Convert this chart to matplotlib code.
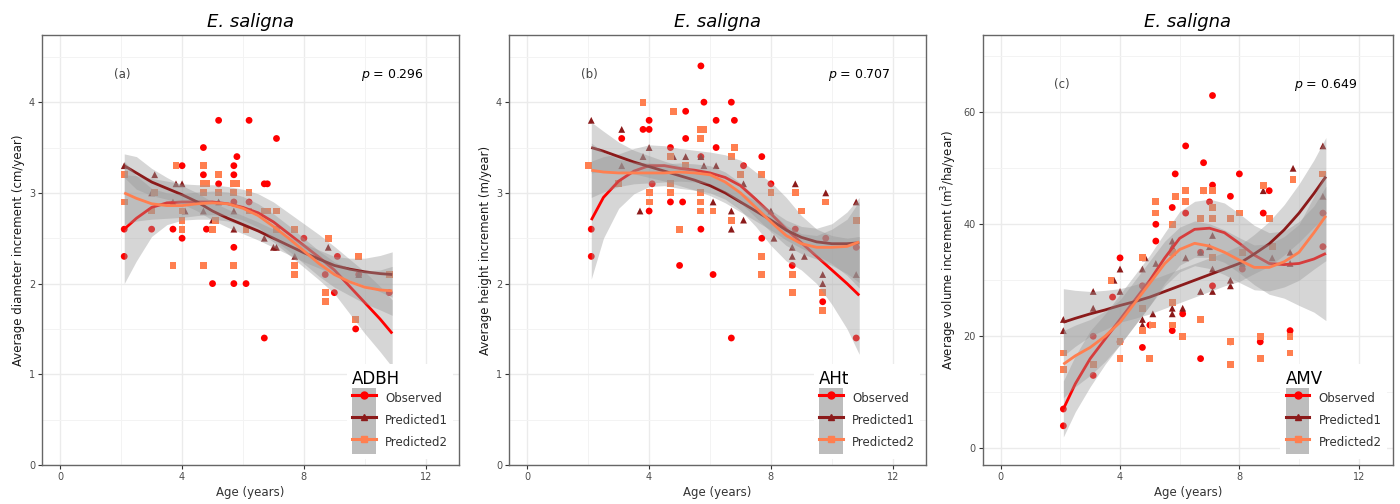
import numpy as np
import matplotlib
matplotlib.use("Agg")
import matplotlib.pyplot as plt
from matplotlib.lines import Line2D
from matplotlib.patches import Patch
from matplotlib.legend_handler import HandlerTuple
from matplotlib.ticker import MultipleLocator

# ---- observed / predicted increments (E. saligna) ----
# panel (a) diameter increment, cm/year
obs_age_a = [2.1, 2.1, 3.0, 3.7, 4.0, 4.0, 4.7, 4.7, 4.8, 5.0, 5.2, 5.2, 5.7, 5.7, 5.7, 5.7, 5.7, 5.8,
             6.1, 6.2, 6.2, 6.7, 6.8, 6.7, 7.1, 8.0, 8.7, 9.0, 9.1, 9.7, 9.8, 10.8]
obs_a = [2.6, 2.3, 2.6, 2.6, 3.3, 2.5, 3.5, 3.2, 2.6, 2.0, 3.8, 3.1, 3.3, 3.2, 2.9, 2.4, 2.0, 3.4,
         2.0, 3.8, 2.9, 3.1, 3.1, 1.4, 3.6, 2.5, 2.1, 1.9, 2.3, 1.5, 2.1, 1.9]
p1_age_a = [2.1, 3.0, 3.1, 3.7, 3.8, 4.0, 4.1, 4.7, 5.0, 5.2, 5.7, 5.7, 6.7, 7.0, 7.1, 7.7, 8.8, 9.8, 10.8]
p1_a = [3.3, 3.0, 3.2, 2.9, 3.1, 3.1, 2.8, 2.8, 2.7, 2.9, 2.6, 2.8, 2.5, 2.4, 2.4, 2.3, 2.4, 2.1, 2.1]
p2_age_a = [2.1, 2.1, 3.0, 3.1, 3.7, 3.8, 4.0, 4.0, 4.0, 4.7, 4.7, 4.7, 4.7, 4.8, 5.0, 5.1, 5.2, 5.2,
            5.7, 5.7, 5.7, 5.8, 6.1, 6.2, 6.2, 6.7, 6.8, 7.1, 7.1, 7.7, 7.7, 7.7, 8.7, 8.7, 8.8,
            9.7, 9.8, 10.8]
p2_a = [3.2, 2.9, 2.8, 3.0, 2.2, 3.3, 2.8, 2.7, 2.6, 3.3, 3.1, 3.0, 2.2, 3.1, 2.6, 2.7, 3.2, 3.0,
        3.1, 3.0, 2.2, 3.1, 2.6, 3.0, 2.8, 2.8, 2.8, 2.8, 2.6, 2.6, 2.2, 2.1, 1.9, 1.8, 2.5,
        1.6, 2.3, 2.1]

# panel (b) height increment, m/year
obs_age_b = [2.1, 2.1, 3.1, 3.8, 4.0, 4.0, 4.0, 4.1, 4.7, 4.7, 5.0, 5.1, 5.2, 5.2, 5.7, 5.7, 5.7, 5.8,
             6.1, 6.2, 6.2, 6.7, 6.7, 6.8, 7.1, 7.7, 7.7, 8.0, 8.7, 8.8, 9.7, 9.8, 10.8, 10.8]
obs_b = [2.6, 2.3, 3.6, 3.7, 3.8, 3.7, 2.8, 3.1, 3.5, 2.9, 2.2, 2.9, 3.9, 3.6, 4.4, 3.4, 2.6, 4.0,
         2.1, 3.8, 3.5, 4.0, 1.4, 3.8, 3.3, 3.4, 2.5, 3.1, 2.2, 2.6, 1.8, 2.5, 2.4, 1.4]
p1_age_b = [2.1, 3.1, 3.1, 3.7, 3.8, 4.0, 4.8, 5.2, 5.7, 5.8, 6.1, 6.2, 6.7, 6.7, 7.1, 7.1, 8.0, 8.1,
            8.7, 8.7, 8.8, 9.1, 9.7, 9.7, 9.8, 10.8, 10.8]
p1_b = [3.8, 3.7, 3.3, 2.8, 3.4, 3.5, 3.4, 3.4, 3.4, 3.3, 2.9, 3.3, 2.8, 2.6, 2.7, 3.1, 2.8, 2.5,
        2.4, 2.3, 3.1, 2.3, 2.1, 2.0, 3.0, 2.9, 2.1]
p2_age_b = [2.0, 3.0, 3.8, 4.0, 4.0, 4.7, 4.7, 4.7, 4.8, 5.0, 5.2, 5.7, 5.7, 5.7, 5.7, 5.7, 5.8, 6.1,
            6.7, 6.7, 6.8, 7.0, 7.7, 7.7, 7.7, 8.0, 8.7, 8.7, 8.8, 9.0, 9.7, 9.7, 9.8, 10.8]
p2_b = [3.3, 3.1, 4.0, 3.0, 2.9, 3.4, 3.1, 3.0, 3.9, 2.6, 3.3, 3.7, 3.6, 3.0, 2.9, 2.8, 3.7, 2.8,
        3.4, 2.7, 3.5, 3.2, 3.2, 2.3, 2.1, 3.0, 2.1, 1.9, 3.0, 2.8, 1.9, 1.7, 2.9, 2.7]

# panel (c) volume increment, m3/ha/year
obs_age_c = [2.1, 2.1, 3.1, 3.1, 3.75, 4.0, 4.0, 4.75, 4.75, 5.0, 5.2, 5.2, 5.75, 5.75, 5.85, 6.1,
             6.2, 6.2, 6.7, 6.7, 6.8, 6.8, 7.0, 7.1, 7.1, 7.1, 7.7, 7.7, 8.0, 8.1, 8.7, 8.8, 9.0,
             9.7, 10.8, 10.8]
obs_c = [7, 4, 13, 20, 27, 34, 19, 18, 29, 22, 40, 37, 43, 21, 49, 24,
         54, 42, 16, 35, 51, 46, 44, 63, 47, 29, 45, 19, 49, 32, 19, 42, 46,
         21, 42, 36]
p1_age_c = [2.1, 2.1, 3.1, 3.1, 3.8, 4.0, 4.0, 4.75, 4.85, 4.75, 4.75, 5.1, 5.2, 5.75, 5.75, 5.75,
            5.75, 6.1, 6.2, 6.7, 6.7, 7.1, 7.1, 7.1, 7.0, 7.7, 7.7, 8.1, 8.8, 9.1, 9.7, 9.8, 9.7,
            10.8, 10.8]
p1_c = [23, 21, 28, 25, 30, 28, 32, 32, 34, 22, 23, 24, 33, 37, 36, 25,
        24, 25, 34, 28, 35, 38, 28, 32, 36, 30, 29, 33, 46, 34, 35, 50, 33,
        54, 45]
p2_age_c = [2.1, 2.1, 3.1, 3.7, 4.0, 4.0, 4.75, 4.75, 4.75, 5.0, 5.1, 5.2, 5.2, 5.75, 5.85, 5.75,
            5.75, 5.75, 6.1, 6.2, 6.2, 6.7, 6.7, 6.8, 7.1, 7.1, 7.1, 7.1, 7.7, 7.7, 7.7, 8.0, 8.1,
            8.7, 8.7, 8.8, 9.0, 9.1, 9.7, 9.7, 9.8, 10.8]
p2_c = [17, 14, 15, 30, 16, 19, 34, 21, 25, 16, 22, 44, 42, 40, 45, 35,
        26, 22, 20, 46, 44, 23, 41, 46, 46, 43, 41, 34, 41, 15, 19, 42, 35,
        20, 16, 47, 41, 36, 20, 17, 48, 49]

# ---- smoothed fits with confidence limits ----
fit_age = [2.1, 2.5, 3.0, 3.5, 4.0, 4.5, 5.0, 5.5, 6.0, 6.5, 7.0, 7.5, 8.0, 8.5, 9.0, 9.5, 10.0, 10.5, 10.9]

fit_obs_a = [2.60, 2.72, 2.84, 2.89, 2.90, 2.90, 2.90, 2.88, 2.84, 2.78, 2.68, 2.55, 2.42, 2.29, 2.15, 1.97, 1.79, 1.61, 1.45]
lo_obs_a = [2.00, 2.25, 2.52, 2.65, 2.70, 2.71, 2.71, 2.69, 2.64, 2.57, 2.46, 2.32, 2.18, 2.04, 1.89, 1.67, 1.45, 1.25, 1.08]
hi_obs_a = [3.20, 3.19, 3.16, 3.13, 3.10, 3.09, 3.09, 3.07, 3.04, 2.99, 2.90, 2.78, 2.66, 2.54, 2.41, 2.27, 2.13, 1.97, 1.82]
fit_p1_a = [3.30, 3.22, 3.12, 3.05, 2.98, 2.90, 2.80, 2.72, 2.65, 2.58, 2.50, 2.42, 2.34, 2.27, 2.20, 2.16, 2.13, 2.11, 2.10]
lo_p1_a = [3.17, 3.04, 2.97, 2.93, 2.88, 2.80, 2.70, 2.62, 2.55, 2.48, 2.40, 2.32, 2.24, 2.17, 2.10, 2.04, 1.98, 1.91, 1.85]
hi_p1_a = [3.43, 3.40, 3.27, 3.17, 3.08, 3.00, 2.90, 2.82, 2.75, 2.68, 2.60, 2.52, 2.44, 2.37, 2.30, 2.28, 2.28, 2.31, 2.35]
fit_p2_a = [3.00, 2.94, 2.88, 2.86, 2.86, 2.88, 2.89, 2.88, 2.83, 2.75, 2.63, 2.50, 2.36, 2.22, 2.10, 2.02, 1.96, 1.93, 1.92]
lo_p2_a = [2.65, 2.69, 2.71, 2.72, 2.73, 2.75, 2.76, 2.75, 2.70, 2.62, 2.49, 2.36, 2.22, 2.08, 1.96, 1.87, 1.78, 1.71, 1.65]
hi_p2_a = [3.35, 3.19, 3.05, 3.00, 2.99, 3.01, 3.02, 3.01, 2.96, 2.88, 2.77, 2.64, 2.50, 2.36, 2.24, 2.17, 2.14, 2.15, 2.19]

fit_obs_b = [2.70, 2.95, 3.13, 3.24, 3.30, 3.30, 3.27, 3.25, 3.22, 3.17, 3.08, 2.93, 2.77, 2.60, 2.45, 2.30, 2.15, 2.00, 1.87]
lo_obs_b = [2.05, 2.50, 2.83, 2.99, 3.07, 3.08, 3.05, 3.03, 3.00, 2.93, 2.81, 2.63, 2.42, 2.25, 2.15, 2.00, 1.77, 1.50, 1.22]
hi_obs_b = [3.35, 3.40, 3.43, 3.49, 3.53, 3.52, 3.49, 3.47, 3.45, 3.42, 3.36, 3.23, 3.12, 2.95, 2.75, 2.60, 2.53, 2.50, 2.52]
fit_p1_b = [3.50, 3.46, 3.40, 3.34, 3.29, 3.24, 3.19, 3.14, 3.08, 3.00, 2.90, 2.80, 2.70, 2.59, 2.51, 2.46, 2.44, 2.44, 2.45]
lo_p1_b = [3.22, 3.24, 3.24, 3.21, 3.17, 3.13, 3.08, 3.03, 2.97, 2.89, 2.79, 2.69, 2.59, 2.48, 2.39, 2.31, 2.22, 2.09, 1.95]
hi_p1_b = [3.78, 3.68, 3.56, 3.47, 3.41, 3.35, 3.30, 3.25, 3.19, 3.11, 3.01, 2.91, 2.81, 2.70, 2.63, 2.61, 2.66, 2.79, 2.95]
fit_p2_b = [3.25, 3.23, 3.22, 3.22, 3.22, 3.22, 3.23, 3.22, 3.20, 3.12, 3.00, 2.84, 2.68, 2.53, 2.44, 2.40, 2.40, 2.41, 2.46]
lo_p2_b = [2.95, 3.01, 3.07, 3.10, 3.11, 3.12, 3.13, 3.12, 3.10, 3.01, 2.89, 2.73, 2.57, 2.42, 2.33, 2.27, 2.20, 2.11, 2.01]
hi_p2_b = [3.55, 3.45, 3.37, 3.34, 3.33, 3.32, 3.33, 3.32, 3.30, 3.23, 3.11, 2.95, 2.79, 2.64, 2.55, 2.53, 2.60, 2.71, 2.91]

fit_obs_c = [7.0, 11.5, 16.0, 19.5, 23.0, 26.5, 30.0, 34.0, 37.5, 39.1, 39.3, 38.5, 36.6, 34.5, 33.0, 32.8, 33.0, 33.8, 34.8]
lo_obs_c = [2.0, 6.5, 11.0, 15.0, 18.5, 22.0, 25.5, 29.5, 32.7, 34.1, 34.1, 33.2, 31.3, 29.2, 27.5, 26.8, 25.5, 24.3, 22.8]
hi_obs_c = [12.0, 16.5, 21.0, 24.0, 27.5, 31.0, 34.5, 38.5, 42.3, 44.1, 44.5, 43.8, 41.9, 39.8, 38.5, 38.8, 40.5, 43.3, 46.8]
fit_p1_c = [22.5, 23.2, 24.0, 24.7, 25.5, 26.2, 27.0, 28.0, 29.0, 30.0, 31.0, 32.0, 33.0, 34.7, 36.5, 39.0, 42.0, 45.5, 48.5]
lo_p1_c = [16.5, 18.2, 20.0, 21.2, 22.5, 23.2, 24.0, 25.0, 26.0, 27.0, 28.0, 29.0, 29.8, 31.2, 32.5, 34.5, 36.8, 39.5, 41.5]
hi_p1_c = [28.5, 28.2, 28.0, 28.2, 28.5, 29.2, 30.0, 31.0, 32.0, 33.0, 34.0, 35.0, 36.2, 38.2, 40.5, 43.5, 47.2, 51.5, 55.5]
fit_p2_c = [15.0, 16.5, 18.0, 20.0, 22.5, 26.0, 29.5, 33.0, 35.5, 36.6, 36.1, 35.0, 33.6, 32.3, 32.3, 33.3, 35.0, 38.5, 41.5]
lo_p2_c = [9.0, 11.0, 13.0, 15.5, 18.5, 22.0, 25.5, 29.0, 31.5, 32.6, 32.1, 31.0, 29.6, 28.3, 28.1, 28.8, 30.0, 32.0, 33.5]
hi_p2_c = [21.0, 22.0, 23.0, 24.5, 26.5, 30.0, 33.5, 37.0, 39.5, 40.6, 40.1, 39.0, 37.6, 36.3, 36.5, 37.8, 40.0, 45.0, 49.5]

series_names = ["Observed", "Predicted1", "Predicted2"]
colors = ["#FF0000", "#8B1A1A", "#FF7F50"]
markers = ["o", "^", "s"]
RIBBON = "#999999"
TICK_COL = "#4d4d4d"

fig = plt.figure(figsize=(14, 5.04), dpi=100)


def panel(rect, pts, fits, xlim, ylim, yticks, yminor, ylabel, title_leg, tag, pval, txt_y):
    ax = fig.add_axes(rect)
    ax.set_xlim(*xlim)
    ax.set_ylim(*ylim)
    ax.set_xticks([0, 4, 8, 12])
    ax.xaxis.set_minor_locator(MultipleLocator(2))
    ax.set_yticks(yticks)
    ax.yaxis.set_minor_locator(MultipleLocator(yminor))
    ax.grid(which="major", color="#ebebeb", lw=1.0, zorder=0)
    ax.grid(which="minor", color="#f3f3f3", lw=0.7, zorder=0)
    ax.set_axisbelow(True)
    for s in ax.spines.values():
        s.set_color("#666666")
        s.set_linewidth(1.0)
    ax.tick_params(which="major", length=3, color="#333333", labelsize=7, labelcolor=TICK_COL, pad=2)
    ax.tick_params(which="minor", length=0)

    # points first, ribbons and lines go over them
    for (px, py), c, m in zip(pts, colors, markers):
        ax.scatter(px, py, s=24, marker=m, color=c, edgecolors="none", zorder=1.5)
    z = 2.0
    for (f, lo, hi), c in zip(fits, colors):
        ax.fill_between(fit_age, lo, hi, color=RIBBON, alpha=0.4, lw=0, zorder=z)
        ax.plot(fit_age, f, color=c, lw=2.0, zorder=z + 0.1, solid_capstyle="butt")
        z += 0.2

    ax.set_xlabel("Age (years)", fontsize=8.5, color="#333333", labelpad=3)
    ax.set_ylabel(ylabel, fontsize=8.5, color="#1a1a1a", labelpad=3)
    ax.set_title("E. saligna", fontsize=13, style="italic", pad=6)
    ax.text(2.05, txt_y, tag, fontsize=8.5, color="#444444", ha="center", va="center")
    ax.text(10.9, txt_y, "$p$ = " + pval, fontsize=9, color="black", ha="center", va="center")

    handles = [(Patch(facecolor="#bdbdbd", edgecolor="none"),
                Line2D([], [], color=c, lw=2.2, marker=m, markersize=5))
               for c, m in zip(colors, markers)]
    leg = ax.legend(handles, series_names, title=title_leg, loc="lower right",
                    bbox_to_anchor=(1.0, 0.0), fontsize=8.5, title_fontsize=12,
                    handler_map={tuple: HandlerTuple(ndivide=1, pad=0)},
                    handlelength=2.0, handleheight=2.5, labelspacing=0.0,
                    handletextpad=0.8, borderpad=0.45, numpoints=1,
                    frameon=True, fancybox=False, alignment="left")
    leg.get_frame().set_facecolor("white")
    leg.get_frame().set_edgecolor("none")
    leg.get_frame().set_alpha(1.0)
    for t in leg.get_texts():
        t.set_color("#333333")
    leg.set_zorder(5)
    return ax


panel([0.030, 0.0774, 0.298, 0.853],
      [(obs_age_a, obs_a), (p1_age_a, p1_a), (p2_age_a, p2_a)],
      [(fit_obs_a, lo_obs_a, hi_obs_a), (fit_p1_a, lo_p1_a, hi_p1_a), (fit_p2_a, lo_p2_a, hi_p2_a)],
      (-0.6, 13.1), (0, 4.74), [0, 1, 2, 3, 4], 0.5,
      "Average diameter increment (cm/year)", "ADBH", "(a)", "0.296", 4.3)

panel([0.3636, 0.0774, 0.298, 0.853],
      [(obs_age_b, obs_b), (p1_age_b, p1_b), (p2_age_b, p2_b)],
      [(fit_obs_b, lo_obs_b, hi_obs_b), (fit_p1_b, lo_p1_b, hi_p1_b), (fit_p2_b, lo_p2_b, hi_p2_b)],
      (-0.6, 13.1), (0, 4.74), [0, 1, 2, 3, 4], 0.5,
      "Average height increment (m/year)", "AHt", "(b)", "0.707", 4.3)

panel([0.702, 0.0774, 0.293, 0.853],
      [(obs_age_c, obs_c), (p1_age_c, p1_c), (p2_age_c, p2_c)],
      [(fit_obs_c, lo_obs_c, hi_obs_c), (fit_p1_c, lo_p1_c, hi_p1_c), (fit_p2_c, lo_p2_c, hi_p2_c)],
      (-0.6, 13.15), (-3, 73.8), [0, 20, 40, 60], 10,
      "Average volume increment (m$^3$/ha/year)", "AMV", "(c)", "0.649", 64.9)

fig.savefig("out.png", dpi=100)
